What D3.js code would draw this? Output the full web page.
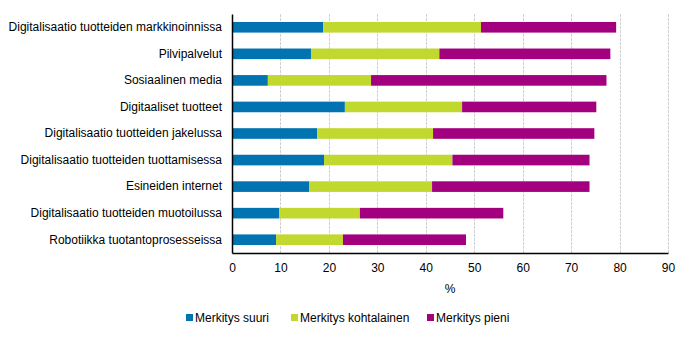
<!DOCTYPE html>
<html>
<head>
<meta charset="utf-8">
<script src="https://cdn.jsdelivr.net/npm/d3@7"></script>
<style>
  body { margin: 0; background: #fff; }
  svg text { font-family: "Liberation Sans", Arial, sans-serif; font-size: 12px; fill: #000; }
</style>
</head>
<body>
<svg width="690" height="338"></svg>
<script>
const categories = [
  "Digitalisaatio tuotteiden markkinoinnissa",
  "Pilvipalvelut",
  "Sosiaalinen media",
  "Digitaaliset tuotteet",
  "Digitalisaatio tuotteiden jakelussa",
  "Digitalisaatio tuotteiden tuottamisessa",
  "Esineiden internet",
  "Digitalisaatio tuotteiden muotoilussa",
  "Robotiikka tuotantoprosesseissa"
];
const seriesNames = ["Merkitys suuri", "Merkitys kohtalainen", "Merkitys pieni"];
const suuri = [18.8, 16.3, 7.4, 23.3, 17.6, 19.0, 15.9, 9.7, 9.1];
const kohtalainen = [32.6, 26.5, 21.3, 24.2, 23.9, 26.5, 25.4, 16.7, 13.8];
const pieni = [27.9, 35.3, 48.6, 27.7, 33.3, 28.3, 32.5, 29.6, 25.4];
const xTicks = [0, 10, 20, 30, 40, 50, 60, 70, 80, 90];

const colors = ["#0073b0", "#c1d82f", "#a3007f"];

const margin = { left: 232, right: 22, top: 14, bottom: 85 };
const width = 690, height = 338;

const svg = d3.select("svg");

const x = d3.scaleLinear().domain([0, 90]).range([margin.left, width - margin.right]);
const y = d3.scaleBand().domain(categories).range([margin.top, height - margin.bottom]).paddingInner(0.6).paddingOuter(0.3);

const rows = categories.map((c, i) => ({ cat: c, vals: [suuri[i], kohtalainen[i], pieni[i]] }));
const stack = d3.stack().keys([0, 1, 2]).value((d, k) => d.vals[k]);
const layers = stack(rows);

// gridlines
svg.append("g")
  .selectAll("line")
  .data(xTicks.slice(1))
  .join("line")
  .attr("x1", d => Math.round(x(d)) + 0.5)
  .attr("x2", d => Math.round(x(d)) + 0.5)
  .attr("y1", margin.top)
  .attr("y2", height - margin.bottom)
  .attr("stroke", "#d0d0d0")
  .attr("stroke-width", 1)
  .attr("stroke-dasharray", "3,1");

// bars
svg.append("g")
  .selectAll("g")
  .data(layers)
  .join("g")
  .attr("fill", (d, i) => colors[i])
  .selectAll("rect")
  .data(d => d)
  .join("rect")
  .attr("x", d => x(d[0]))
  .attr("width", d => x(d[1]) - x(d[0]))
  .attr("y", d => y(d.data.cat))
  .attr("height", y.bandwidth());

// axes
const xAxis = svg.append("g")
  .attr("transform", `translate(0,${height - margin.bottom})`)
  .call(d3.axisBottom(x).tickValues(xTicks).tickSize(0).tickPadding(10));
xAxis.select(".domain").attr("stroke", "#000").attr("stroke-width", 1.5);

const yAxis = svg.append("g")
  .attr("transform", `translate(${margin.left},0)`)
  .call(d3.axisLeft(y).tickSize(0).tickPadding(10));
yAxis.select(".domain").attr("stroke", "#000").attr("stroke-width", 1.5);

svg.append("text")
  .attr("x", (x(0) + x(90)) / 2)
  .attr("y", 293)
  .attr("text-anchor", "middle")
  .text("%");

// legend
const legendX = [186, 291, 427];
const legend = svg.append("g")
  .selectAll("g")
  .data(seriesNames)
  .join("g")
  .attr("transform", (d, i) => `translate(${legendX[i]},314)`);
legend.append("rect")
  .attr("width", 7)
  .attr("height", 7)
  .attr("fill", (d, i) => colors[i]);
legend.append("text")
  .attr("x", 9)
  .attr("y", 7.5)
  .text(d => d);
</script>
</body>
</html>
